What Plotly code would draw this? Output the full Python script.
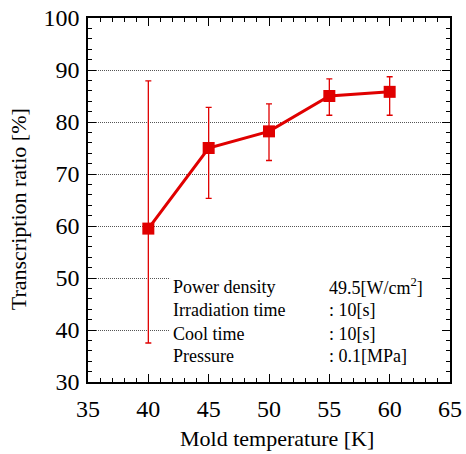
import plotly.graph_objects as go

temps = [40, 45, 50, 55, 60]
ratio = [59.5, 75.0, 78.2, 85.0, 85.8]
err_plus = [28.4, 7.8, 5.3, 3.3, 2.9]
err_minus = [22.0, 9.7, 5.6, 3.7, 4.5]

cond_labels = ["Power density", "Irradiation time", "Cool time", "Pressure"]
cond_values = ["49.5[W/cm<sup>2</sup>]", ": 10[s]", ": 10[s]", ": 0.1[MPa]"]
cond_y = [48.3, 43.8, 39.3, 35.0]

x_title = "Mold temperature [K]"
y_title = "Transcription ratio [%]"

red = "#e00000"
font = "Liberation Serif"

fig = go.Figure()
fig.add_trace(go.Scatter(
    x=temps, y=ratio, mode="lines+markers",
    line=dict(color=red, width=3),
    marker=dict(symbol="square", size=12, color=red),
    error_y=dict(type="data", symmetric=False, array=err_plus, arrayminus=err_minus,
                 color=red, thickness=1.3, width=3),
    showlegend=False,
))

fig.add_shape(type="rect", x0=41.8, x1=64.7, y0=31.5, y1=52.2,
              fillcolor="white", line=dict(width=0), layer="between")

for lab, val, yy in zip(cond_labels, cond_values, cond_y):
    fig.add_annotation(x=41.9, y=yy, text=lab, showarrow=False, xanchor="left",
                       yanchor="middle", font=dict(family=font, size=18, color="black"))
    fig.add_annotation(x=54.8, y=yy, text=val, showarrow=False, xanchor="left",
                       yanchor="middle", font=dict(family=font, size=18, color="black"))

# axis titles
fig.add_annotation(xref="paper", yref="paper", x=0.523, y=-0.156, text=x_title,
                   showarrow=False, xanchor="center", yanchor="middle", borderpad=0,
                   font=dict(family=font, size=22, color="black"))
fig.add_annotation(xref="paper", yref="paper", x=-0.193, y=0.475, text=y_title,
                   textangle=-90, showarrow=False, xanchor="center", yanchor="middle",
                   font=dict(family=font, size=22, color="black"))

fig.update_layout(
    width=466, height=454,
    margin=dict(l=88, r=16, t=18, b=72),
    plot_bgcolor="white", paper_bgcolor="white",
    font=dict(family=font, color="black"),
)
fig.update_xaxes(
    range=[35, 65], dtick=5, tick0=35, showgrid=False, zeroline=False, automargin=False,
    showline=True, linecolor="black", linewidth=1.5, mirror="ticks",
    ticks="inside", ticklen=8, tickwidth=1, tickcolor="black",
    minor=dict(dtick=1, ticks="inside", ticklen=4, tickcolor="black", showgrid=False),
    tickfont=dict(size=24, family=font), ticklabelstandoff=4,
)
fig.update_yaxes(
    range=[30, 100], dtick=10, tick0=30, showgrid=True, gridcolor="#555555",
    griddash="1px,1px", gridwidth=1, zeroline=False, automargin=False,
    showline=True, linecolor="black", linewidth=1.5, mirror="ticks",
    ticks="inside", ticklen=8, tickwidth=1, tickcolor="black",
    minor=dict(dtick=2, ticks="inside", ticklen=4, tickcolor="black", showgrid=False),
    tickfont=dict(size=24, family=font), ticklabelstandoff=2,
)

fig.write_html("out.html")
